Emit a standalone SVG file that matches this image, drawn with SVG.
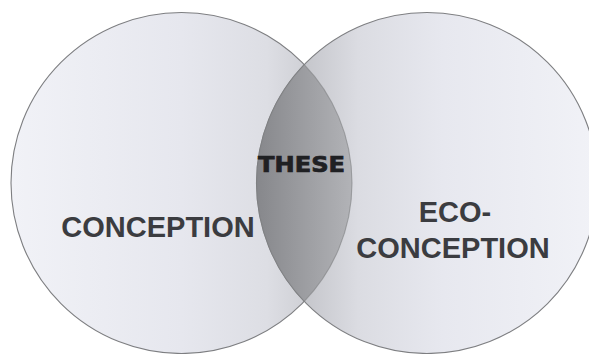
<svg xmlns="http://www.w3.org/2000/svg" width="589" height="354" viewBox="0 0 589 354">
  <defs>
    <linearGradient id="gLeft" gradientUnits="userSpaceOnUse" x1="11" y1="0" x2="352" y2="0">
      <stop offset="0" stop-color="#f1f2f7"/>
      <stop offset="0.5" stop-color="#e6e7ee"/>
      <stop offset="0.75" stop-color="#dddee4"/>
      <stop offset="0.9" stop-color="#cbccd1"/>
      <stop offset="1" stop-color="#b6b7bc"/>
    </linearGradient>
    <linearGradient id="gRight" gradientUnits="userSpaceOnUse" x1="256" y1="0" x2="597" y2="0">
      <stop offset="0" stop-color="#a3a4a9"/>
      <stop offset="0.12" stop-color="#c2c3c8"/>
      <stop offset="0.3" stop-color="#dbdce2"/>
      <stop offset="0.55" stop-color="#e7e8ef"/>
      <stop offset="1" stop-color="#f1f2f7"/>
    </linearGradient>
    <linearGradient id="gLens" gradientUnits="userSpaceOnUse" x1="256" y1="0" x2="352" y2="0">
      <stop offset="0" stop-color="#86878b"/>
      <stop offset="0.5" stop-color="#9c9da1"/>
      <stop offset="1" stop-color="#b2b3b7"/>
    </linearGradient>
  </defs>
  <style>
    .outline { stroke: #7d7e81; stroke-width: 1.1; }
    .label { font-family: "Liberation Sans", Arial, sans-serif; font-weight: bold; fill: #3b3c40; text-anchor: middle; }
    .these { font-family: "DejaVu Sans", sans-serif; font-weight: bold; fill: #1f2023; stroke: #1f2023; stroke-width: 0.7; }
  </style>
  <rect width="589" height="354" fill="#ffffff"/>
  <g id="conception">
    <circle cx="181.5" cy="183" r="170.5" fill="url(#gLeft)" class="outline"/>
    <text class="label" x="158" y="236.5" font-size="29">CONCEPTION</text>
  </g>
  <g id="eco-conception">
    <circle cx="427" cy="183" r="170.5" fill="url(#gRight)" class="outline"/>
    <text class="label" x="455" y="221.5" font-size="29">ECO-</text>
    <text class="label" x="453" y="258" font-size="29">CONCEPTION</text>
  </g>
  <g id="these">
    <path d="M 304.25 64.67 A 170.5 170.5 0 0 1 304.25 301.33 A 170.5 170.5 0 0 1 304.25 64.67 Z" fill="url(#gLens)" class="outline" stroke-opacity="0.6"/>
    <text class="these" x="258" y="171.5" font-size="21" textLength="87" lengthAdjust="spacingAndGlyphs">THESE</text>
  </g>
  <g id="connectors"/>
</svg>
